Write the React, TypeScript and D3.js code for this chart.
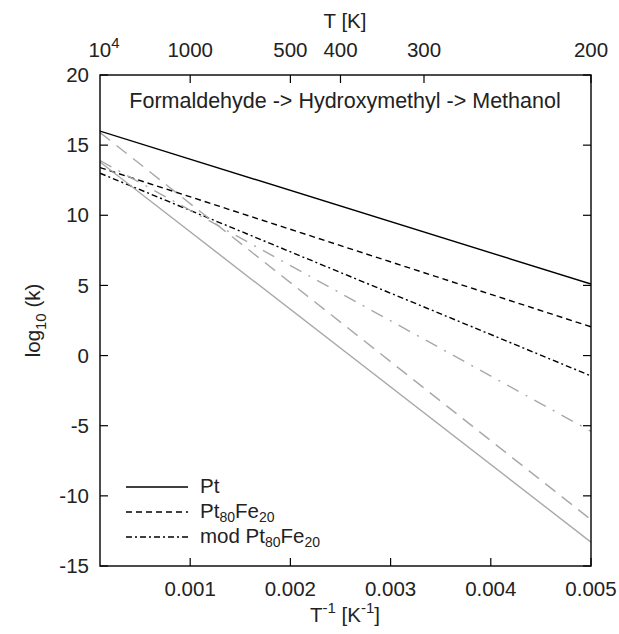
import React from "react";
import * as d3 from "d3";

const xEnds = [0.0001, 0.005];
const seriesNames = ["Pt", "Pt80Fe20", "mod Pt80Fe20", "grey dash-dot", "grey dashed", "grey solid"];
const ptValues = [16.0, 5.1];
const ptFeValues = [13.4, 2.05];
const modPtFeValues = [13.0, -1.45];
const greyDashDotValues = [13.9, -5.4];
const greyDashedValues = [15.9, -11.7];
const greySolidValues = [13.8, -13.3];
const bottomTicks = [0.001, 0.002, 0.003, 0.004, 0.005];
const bottomTickLabels = ["0.001", "0.002", "0.003", "0.004", "0.005"];
const topTemps = [1000, 500, 400, 300, 200];
const topTickLabels = ["1000", "500", "400", "300", "200"];
const yTicks = [20, 15, 10, 5, 0, -5, -10, -15];
const title = "Formaldehyde -> Hydroxymethyl -> Methanol";

const W = 619, H = 634;
const L = 100, R = 591, T = 75, B = 566;
const FONT = "Liberation Sans, Arial, sans-serif";
const FS = 20.5;
const SUB = 15;

export default function App() {
  const x = d3.scaleLinear().domain([0.0001, 0.005]).range([L, R]);
  const y = d3.scaleLinear().domain([-15, 20]).range([B, T]);
  const line = d3.line<[number, number]>().x(d => x(d[0])).y(d => y(d[1]));
  const mk = (vals: number[]) => xEnds.map((xv, i) => [xv, vals[i]] as [number, number]);

  const grey = "#a8a8a8";
  const series = [
    { vals: ptValues, color: "#000", dash: "none", w: 1.4 },
    { vals: ptFeValues, color: "#000", dash: "6,4", w: 1.4 },
    { vals: modPtFeValues, color: "#000", dash: "6,3,2,3", w: 1.4 },
    { vals: greyDashDotValues, color: grey, dash: "13,8,2,8", w: 1.4 },
    { vals: greyDashedValues, color: grey, dash: "13,8", w: 1.4 },
    { vals: greySolidValues, color: grey, dash: "none", w: 1.4 },
  ];

  const legend = [
    { dash: "none", label: ["Pt"] },
    { dash: "6,4", label: ["Pt", "80", "Fe", "20"] },
    { dash: "6,3,2,3", label: ["mod Pt", "80", "Fe", "20"] },
  ];

  const tick = 8;
  return (
    <svg width={W} height={H} style={{ position: "absolute", left: 0, top: 0, background: "#fff" }} fontFamily={FONT}>
      <rect x={0} y={0} width={W} height={H} fill="#fff" />
      <g clipPath="url(#clip)">
        <clipPath id="clip"><rect x={L} y={T} width={R - L} height={B - T} /></clipPath>
        {series.map((s, i) => (
          <path key={seriesNames[i]} d={line(mk(s.vals)) || ""} fill="none" stroke={s.color} strokeWidth={s.w} strokeDasharray={s.dash} />
        ))}
      </g>
      <rect x={L} y={T} width={R - L} height={B - T} fill="none" stroke="#000" strokeWidth={1.4} />
      {yTicks.map(v => (
        <g key={"y" + v}>
          <line x1={L} x2={L + tick} y1={y(v)} y2={y(v)} stroke="#000" strokeWidth={1.2} />
          <line x1={R} x2={R - tick} y1={y(v)} y2={y(v)} stroke="#000" strokeWidth={1.2} />
          <text x={L - 11} y={y(v)} dy="0.35em" textAnchor="end" fontSize={FS} fill="#222">{v}</text>
        </g>
      ))}
      {bottomTicks.map((v, i) => (
        <g key={"b" + v}>
          <line x1={x(v)} x2={x(v)} y1={B} y2={B - tick} stroke="#000" strokeWidth={1.2} />
          <text x={x(v)} y={B + 30} textAnchor="middle" fontSize={FS} fill="#222">{bottomTickLabels[i]}</text>
        </g>
      ))}
      {topTemps.map((t, i) => (
        <g key={"t" + t}>
          <line x1={x(1 / t)} x2={x(1 / t)} y1={T} y2={T + tick} stroke="#000" strokeWidth={1.2} />
          <text x={x(1 / t)} y={T - 18} textAnchor="middle" fontSize={FS} fill="#222">{topTickLabels[i]}</text>
        </g>
      ))}
      <text x={x(0.0001) + 4} y={T - 18} textAnchor="middle" fontSize={FS} fill="#222">
        10<tspan dy={-9} fontSize={SUB}>4</tspan>
      </text>
      <text x={345} y={28} textAnchor="middle" fontSize={FS} fill="#222">T [K]</text>
      <text x={345} y={622} textAnchor="middle" fontSize={FS} fill="#222">
        T<tspan dy={-9} fontSize={SUB}>-1</tspan><tspan dy={9}> [K</tspan><tspan dy={-9} fontSize={SUB}>-1</tspan><tspan dy={9}>]</tspan>
      </text>
      <text transform={`translate(40,${(T + B) / 2}) rotate(-90)`} textAnchor="middle" fontSize={FS} fill="#222">
        log<tspan dy={6} fontSize={SUB}>10</tspan><tspan dy={-6}> (k)</tspan>
      </text>
      <text x={345} y={108} textAnchor="middle" fontSize={21.5} fill="#222">{title}</text>
      {legend.map((l, i) => {
        const ly = 487 + i * 25;
        return (
          <g key={"l" + i}>
            <line x1={126} x2={188} y1={ly} y2={ly} stroke="#000" strokeWidth={1.3} strokeDasharray={l.dash} />
            <text x={200} y={ly} dy="0.3em" fontSize={FS} fill="#222">
              {l.label.length === 1 ? l.label[0] : (
                <>
                  {l.label[0]}<tspan dy={4} fontSize={14}>{l.label[1]}</tspan><tspan dy={-4}>{l.label[2]}</tspan><tspan dy={4} fontSize={14}>{l.label[3]}</tspan>
                </>
              )}
            </text>
          </g>
        );
      })}
    </svg>
  );
}
